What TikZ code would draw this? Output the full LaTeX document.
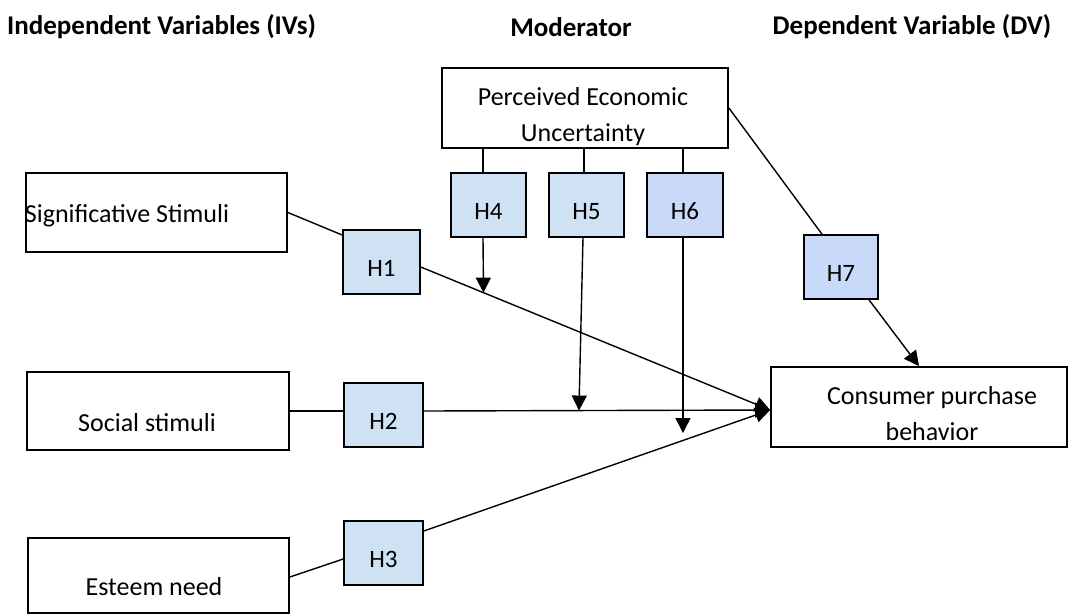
\documentclass[tikz,border=0pt]{standalone}
\usepackage{fontspec}
\setmainfont{Carlito}
\usetikzlibrary{arrows.meta,calc}
\definecolor{hblue}{HTML}{CFE2F3}
\definecolor{hbluetwo}{HTML}{C9DAF8}
\begin{document}
\begin{tikzpicture}[x=1pt,y=-1pt,
  box/.style={draw, line width=1.8pt, inner sep=0pt, fill=white},
  hbox/.style={draw, line width=1.6pt, fill=hblue, inner sep=0pt,
    minimum width=77pt, minimum height=64pt, text height=28pt, text depth=0pt,
    font=\fontsize{25}{30}\selectfont},
  txt/.style={font=\fontsize{26}{36}\selectfont, align=center, inner sep=0pt},
  ttl/.style={font=\fontsize{27}{32}\selectfont\bfseries, inner sep=0pt},
  conn/.style={line width=1.4pt},
  arr/.style={conn, -{Triangle[length=15pt,width=15pt]}},
]
\useasboundingbox (0,0) rectangle (1068,614);

% titles
\node[ttl] (t1) at (161.5,27) {Independent Variables (IVs)};
\node[ttl] (t2) at (571,27) {Moderator};
\node[ttl] (t3) at (912,27) {Dependent Variable (DV)};

% main boxes
\node[box, minimum width=261pt, minimum height=79pt] (sig) at (156.5,212.5) {};
\node[txt] (sigt) at (127,216) {Significative Stimuli};
\node[box, minimum width=262pt, minimum height=78pt] (soc) at (158,411) {};
\node[txt] (soct) at (147,423) {Social stimuli};
\node[box, minimum width=261pt, minimum height=75pt] (est) at (158.5,575.5) {};
\node[txt] (estt) at (154,587) {Esteem need};
\node[box, minimum width=286pt, minimum height=80pt] (mod) at (585,108) {};
\node[txt] (modt) at (583,117) {Perceived Economic\\Uncertainty};
\node[box, minimum width=296pt, minimum height=80pt] (cpb) at (919,407) {};
\node[txt] (cpbt) at (932,414) {Consumer purchase\\behavior};

% hypothesis boxes
\node[hbox] (h1) at (381.5,262) {H1};
\node[hbox, minimum width=79pt] (h2) at (383.5,415) {H2};
\node[hbox, minimum width=79pt] (h3) at (383.5,553) {H3};
\node[hbox, minimum width=75pt] (h4) at (488.5,205) {H4};
\node[hbox, minimum width=75pt] (h5) at (586.5,205) {H5};
\node[hbox, minimum width=76pt, fill=hbluetwo] (h6) at (685,205) {H6};
\node[hbox, minimum width=74pt, fill=hbluetwo] (h7) at (841,267) {H7};

% key points
\coordinate (tgt) at ([yshift=-3pt]cpb.west);
\coordinate (h1r) at ([yshift=-5pt]h1.east);
\coordinate (h2r) at ([yshift=4pt]h2.east);
\coordinate (h3r) at ([yshift=22pt]h3.east);
\coordinate (m4) at ($(h1r)!0.1795!(tgt)$);
\coordinate (m5) at ($(h2r)!0.448!(tgt)$);
\coordinate (m6) at (683,433);

% IV paths
\draw[conn] (sig.east) -- ([yshift=27pt]h1.west);
\draw[arr] (h1r) -- (tgt);
\draw[conn] (soc.east) -- ([yshift=4pt]h2.west);
\draw[arr] (h2r) -- (tgt);
\draw[conn] ([yshift=-1.5pt]est.east) -- ([yshift=-6pt]h3.west);
\draw[arr] (h3r) -- (tgt);

% moderator paths
\draw[conn] ([xshift=-5.5pt]h4.north |- mod.south) -- ([xshift=-5.5pt]h4.north);
\draw[conn] ([xshift=-2.5pt]h5.north |- mod.south) -- ([xshift=-2.5pt]h5.north);
\draw[conn] ([xshift=-2pt,yshift=2pt]h6.north |- mod.south) -- ([xshift=-2pt]h6.north);
\draw[arr] ([xshift=-5.5pt]h4.south) -- (m4);
\draw[arr] ([xshift=-3.5pt]h5.south) -- (m5);
\draw[arr] ([xshift=-2pt]h6.south) -- (m6);

% direct moderator to DV
\draw[conn] (mod.east) -- ([xshift=-19pt]h7.north);
\draw[arr] ([xshift=28pt]h7.south) -- (cpb.north);
\end{tikzpicture}
\end{document}
